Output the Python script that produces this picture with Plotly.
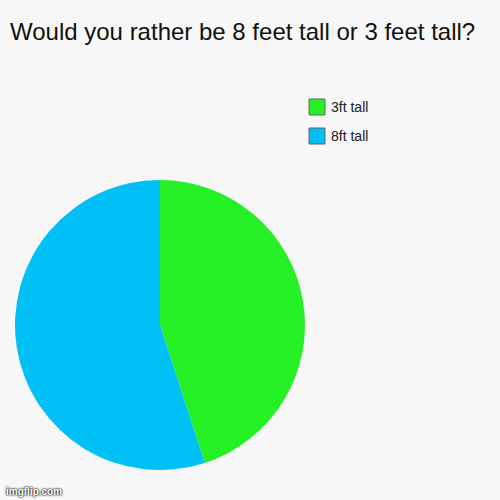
import plotly.graph_objects as go

# votes (green slice ~45%)
labels = ["3ft tall", "8ft tall"]
votes = [9, 11]
colors = ["#24f024", "#00c0f5"]

W, H = 500, 500
BG = "#f7f7f7"


def px(x):
    return x / W


def py(y):
    return 1 - y / H


fig = go.Figure()

fig.add_trace(go.Pie(
    labels=labels,
    values=votes,
    sort=False,
    direction="clockwise",
    rotation=0,
    textinfo="none",
    hoverinfo="label+percent",
    marker=dict(colors=colors, line=dict(width=0)),
    domain=dict(x=[px(15), px(305)], y=[py(470), py(180)]),
    showlegend=False,
))

# legend drawn by hand to get the big bordered swatches
shapes = []
annotations = []
for i, (lab, col) in enumerate(zip(labels, colors)):
    top = 99 + i * 29
    shapes.append(dict(
        type="rect", xref="paper", yref="paper",
        x0=px(309), x1=px(325), y0=py(top + 16), y1=py(top),
        fillcolor=col, line=dict(color="#666", width=1),
    ))
    annotations.append(dict(
        text=lab, xref="paper", yref="paper",
        x=px(329), y=py(top + 8), xanchor="left", yanchor="middle",
        showarrow=False, font=dict(size=14, color="#222"),
    ))

annotations.append(dict(
    text="<b>imgflip.com</b>",
    x=px(4), y=py(491),
    xref="paper", yref="paper",
    xanchor="left", yanchor="middle",
    showarrow=False,
    font=dict(size=10, color="#ffffff", family="Liberation Sans, Arial, sans-serif",
              shadow="0px 0px 2px #000, 0px 0px 2px #000"),
))

fig.update_layout(
    width=W,
    height=H,
    paper_bgcolor=BG,
    plot_bgcolor=BG,
    margin=dict(l=0, r=0, t=0, b=0),
    font=dict(family="Liberation Sans, Arial, sans-serif", color="#000"),
    title=dict(
        text="Would you rather be 8 feet tall or 3 feet tall?",
        x=px(10), xanchor="left",
        y=py(32), yanchor="middle",
        font=dict(size=24, color="#111"),
    ),
    shapes=shapes,
    annotations=annotations,
)

# drop the page's default body margin so the figure sits at the top-left corner
fig.write_html(
    "out.html",
    config={"displayModeBar": False},
    post_script="document.body.style.margin='0';document.body.style.background='%s';" % BG,
)
